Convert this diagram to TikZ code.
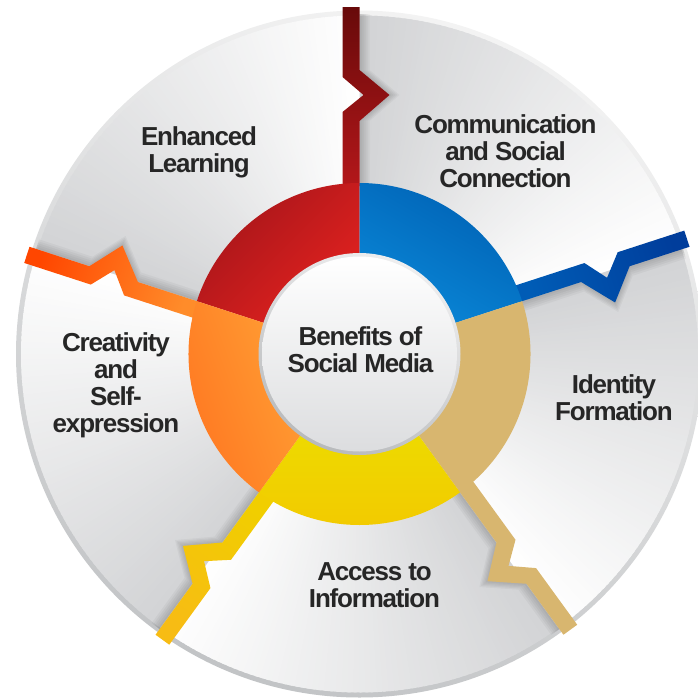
\documentclass[tikz,border=0pt]{standalone}
\usepackage{fontspec}
\setmainfont{Liberation Sans}
\newfontfamily\lblfont[LetterSpace=-4.6]{Liberation Sans}
\definecolor{txt}{HTML}{262626}
\definecolor{dgray}{HTML}{D2D3D5}
\definecolor{rimlight}{HTML}{F3F3F3}
\definecolor{rimdark}{HTML}{C2C4C6}
\definecolor{redDark}{HTML}{A5151A}
\definecolor{redBright}{HTML}{E3221F}
\definecolor{redBoltIn}{HTML}{B3171A}
\definecolor{redBoltOut}{HTML}{680A0A}
\definecolor{blueDark}{HTML}{0061B4}
\definecolor{blueBright}{HTML}{0A88D8}
\definecolor{blueBoltIn}{HTML}{005CB6}
\definecolor{blueBoltOut}{HTML}{003D9B}
\definecolor{tanC}{HTML}{D8B66F}
\definecolor{yelTop}{HTML}{EDDA00}
\definecolor{yelBot}{HTML}{F3C900}
\definecolor{yelBoltIn}{HTML}{F1CE00}
\definecolor{yelBoltOut}{HTML}{F7BC14}
\definecolor{orDark}{HTML}{FF7420}
\definecolor{orBright}{HTML}{FF9F34}
\definecolor{orBoltIn}{HTML}{FF8C2A}
\definecolor{orBoltOut}{HTML}{FF4600}
\definecolor{hubTop}{HTML}{FFFFFF}
\definecolor{hubBot}{HTML}{DCDDDF}
\definecolor{hubRimTop}{HTML}{EEEEEF}
\definecolor{hubRimBot}{HTML}{B8BABC}
\begin{document}
\begin{tikzpicture}[x=1pt,y=1pt,
  lbl/.style={font=\lblfont\bfseries\fontsize{26}{27}\selectfont, text=txt, align=center, inner sep=0pt, anchor=north},
  shadowlayer/.style={fill=black, opacity=0.035}]
\useasboundingbox (0,0) rectangle (698,-699);
\begin{scope}[shift={(359.5,-354)}]
  % outer rim
  \shade[top color=rimlight, bottom color=rimdark, shading angle=-20] (0,0) circle[radius=343.5];
  % sectors with angular gradient (white at clockwise end, grey at counter-clockwise end)
  \foreach \s in {18,90,162,234,306} {
    \foreach \i in {0,...,71} {
      \pgfmathsetmacro\p{100*\i/71}
      \fill[dgray!\p!white] (0,0) -- (\s+\i:338.5) arc[start angle=\s+\i, end angle=\s+\i+1.5, radius=338.5] -- cycle;
    }
  }
  % soft shadows of the bolts
  \begin{scope}
    \clip (0,0) circle[radius=340];
    \foreach \ang in {90,18,-54,-126,162} {
      \begin{scope}[rotate=\ang]
        \foreach \d in {2,4,6,8,10} {
          \fill[shadowlayer] (168,-\d) -- (233,-\d) -- (259,-30-\d) -- (284,-\d) -- (347,-\d) -- (347,17-\d) -- (277,17-\d) -- (259,-4-\d) -- (242,17-\d) -- (168,17-\d) -- cycle;
        }
      \end{scope}
    }
  \end{scope}
  % bolts
  \foreach \ang/\ci/\co in {90/redBoltIn/redBoltOut, 18/blueBoltIn/blueBoltOut, -54/tanC/tanC, -126/yelBoltIn/yelBoltOut, 162/orBoltIn/orBoltOut} {
    \pgfmathsetmacro\sa{\ang-90}
    \begin{scope}[rotate=\ang]
      \shade[top color=\co, bottom color=\ci, shading angle=\sa] (168,0) -- (233,0) -- (259,-30) -- (284,0) -- (347,0) -- (347,17) -- (277,17) -- (259,-4) -- (242,17) -- (168,17) -- cycle;
    \end{scope}
  }
  % ring segments
  \shade[top color=redDark, bottom color=redBright, shading angle=45] (90:171) arc[start angle=90, end angle=162, radius=171] -- (162:96) arc[start angle=162, end angle=90, radius=96] -- cycle;
  \shade[top color=blueDark, bottom color=blueBright, shading angle=-30] (18:171) arc[start angle=18, end angle=90, radius=171] -- (90:96) arc[start angle=90, end angle=18, radius=96] -- cycle;
  \fill[tanC] (-54:171) arc[start angle=-54, end angle=18, radius=171] -- (18:96) arc[start angle=18, end angle=-54, radius=96] -- cycle;
  \shade[top color=yelTop, bottom color=yelBot] (-126:171) arc[start angle=-126, end angle=-54, radius=171] -- (-54:96) arc[start angle=-54, end angle=-126, radius=96] -- cycle;
  \shade[top color=orDark, bottom color=orBright, shading angle=110] (162:171) arc[start angle=162, end angle=234, radius=171] -- (234:96) arc[start angle=234, end angle=162, radius=96] -- cycle;
  % hub
  \shade[top color=hubRimTop, bottom color=hubRimBot, shading angle=-25] (0,0) circle[radius=101];
  \shade[top color=hubTop, bottom color=hubBot] (0,0) circle[radius=97.5];
\end{scope}
% labels
\node[lbl] (hub) at (360.5,-326) {Benefits of\\Social Media};
\node[lbl] (comm) at (505.5,-114.6) {Communication\\and Social\\Connection};
\node[lbl] (learn) at (199,-126.6) {Enhanced\\Learning};
\node[lbl] (creat) at (116,-332) {Creativity\\and\\Self-\\expression};
\node[lbl] (ident) at (614,-374.6) {Identity\\Formation};
\node[lbl] (access) at (374.5,-562) {Access to\\Information};
\end{tikzpicture}
\end{document}
